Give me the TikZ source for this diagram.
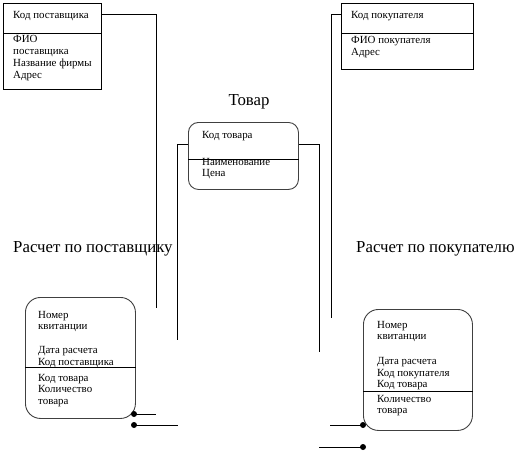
\documentclass[tikz,border=0pt]{standalone}
\usepackage{fontspec}
\setmainfont{Liberation Serif}
\begin{document}
\begin{tikzpicture}[x=1pt,y=-1pt,
  box/.style={draw=black,line width=0.9pt,inner sep=0,anchor=north west},
  rbox/.style={draw=black!75,line width=0.9pt,inner sep=0,anchor=north west,rounded corners=#1},
  txt/.style={inner sep=0,anchor=base west,font=\fontsize{10.9}{12}\selectfont},
  big/.style={inner sep=0,anchor=base west,font=\fontsize{16.8}{18}\selectfont},
  conn/.style={line width=0.9pt},
  dot/.style={fill=black}]
\useasboundingbox (0,0) rectangle (524,456);
% boxes
\node[box,minimum width=98pt,minimum height=86pt] (sup) at (3,3) {};
\node[box,minimum width=132pt,minimum height=66pt] (cust) at (341,3) {};
\node[rbox=10pt,minimum width=110pt,minimum height=67pt] (prod) at (188,122) {};
\node[rbox=15pt,minimum width=110pt,minimum height=121pt] (pay1) at (25,297) {};
\node[rbox=15pt,minimum width=109pt,minimum height=121pt] (pay2) at (363,309) {};
% dividers
\draw[conn] (sup.west |- 0,33) -- (sup.east |- 0,33);
\draw[conn] (cust.west |- 0,33) -- (cust.east |- 0,33);
\draw[conn] (prod.west |- 0,159) -- (prod.east |- 0,159);
\draw[conn] (pay1.west |- 0,367) -- (pay1.east |- 0,367);
\draw[conn] (pay2.west |- 0,391) -- (pay2.east |- 0,391);
% texts
\node[txt] (s1) at (13,18) {Код поставщика};
\node[txt] (s2) at (13,42) {ФИО};
\node[txt] (s3) at (13,54) {поставщика};
\node[txt] (s4) at (13,66) {Название фирмы};
\node[txt] (s5) at (13,78) {Адрес};
\node[txt] (c1) at (351,18) {Код покупателя};
\node[txt] (c2) at (351,43) {ФИО покупателя};
\node[txt] (c3) at (351,55) {Адрес};
\node[txt] (p1) at (202,138) {Код товара};
\node[txt] (p2) at (202,165) {Наименование};
\node[txt] (p3) at (202,176) {Цена};
\node[txt] (a1) at (38,318) {Номер};
\node[txt] (a2) at (38,329.5) {квитанции};
\node[txt] (a3) at (38,353) {Дата расчета};
\node[txt] (a4) at (38,365) {Код поставщика};
\node[txt] (a5) at (38,381) {Код товара};
\node[txt] (a6) at (38,392.5) {Количество};
\node[txt] (a7) at (38,404) {товара};
\node[txt] (b1) at (377,328) {Номер};
\node[txt] (b2) at (377,339.5) {квитанции};
\node[txt] (b3) at (377,364.5) {Дата расчета};
\node[txt] (b4) at (377,376) {Код покупателя};
\node[txt] (b5) at (377,387.5) {Код товара};
\node[txt] (b6) at (377,402) {Количество};
\node[txt] (b7) at (377,413.5) {товара};
\node[big,anchor=base] (tt) at (249,105) {Товар};
\node[big] (l1) at (13,252) {Расчет по поставщику};
\node[big] (l2) at (356,252) {Расчет по покупателю};
% connector ends
\coordinate (e1) at (156,308);
\coordinate (e2) at (331,318);
\coordinate (e3) at (177,340);
\coordinate (e4) at (319,352);
\coordinate (d1) at (134,414);
\coordinate (d2) at (134,425);
\coordinate (d3) at (363,425);
\coordinate (d4) at (363,447);
\coordinate (f1) at (156,414);
\coordinate (f2) at (178,425);
\coordinate (f3) at (330,425);
\coordinate (f4) at (319,447);
% connectors
\draw[conn] (sup.east |- 0,14) -| (e1);
\draw[conn] (cust.west |- 0,14) -| (e2);
\draw[conn] (prod.west |- 0,144) -| (e3);
\draw[conn] (prod.east |- 0,144) -| (e4);
\draw[conn] (d1) -- (f1);
\draw[conn] (d2) -- (f2);
\draw[conn] (f3) -- (d3);
\draw[conn] (f4) -- (d4);
\fill[dot] (d1) circle (3pt);
\fill[dot] (d2) circle (3pt);
\fill[dot] (d3) circle (3pt);
\fill[dot] (d4) circle (3pt);
\end{tikzpicture}
\end{document}
